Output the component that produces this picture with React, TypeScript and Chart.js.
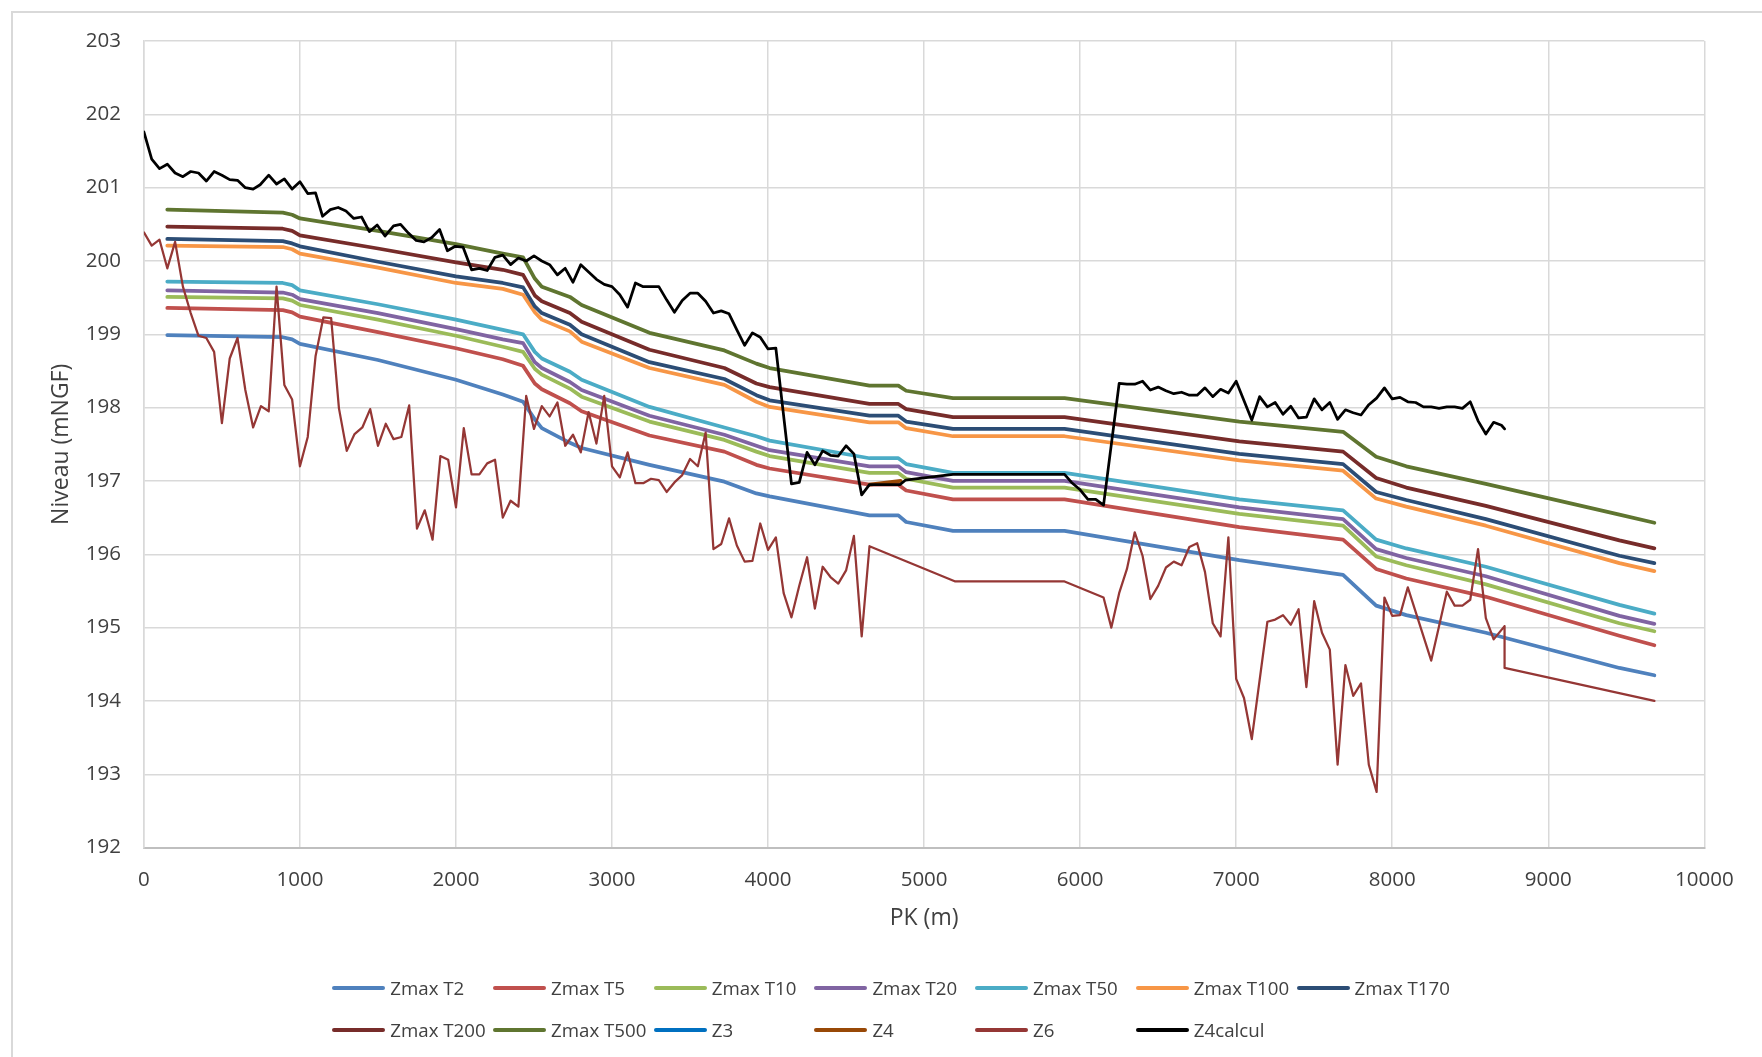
import React, { useEffect, useRef } from "react";
import { Chart, registerables } from "chart.js";

Chart.register(...registerables);

// ---------------- DATA ----------------
// PK (m) of the Zmax profiles
const PK_ZMAX = [150, 890, 950, 1000, 1500, 2000, 2300, 2430, 2505, 2550, 2730, 2805, 3240, 3720, 3925, 4010, 4650, 4835, 4885, 5185, 5900, 7020, 7685, 7897, 8090, 8600, 9456, 9680];

const ZMAX_T2 = [198.99, 198.96, 198.93, 198.87, 198.65, 198.38, 198.18, 198.08, 197.84, 197.72, 197.52, 197.45, 197.22, 196.99, 196.83, 196.79, 196.53, 196.53, 196.44, 196.32, 196.32, 195.92, 195.72, 195.30, 195.17, 194.93, 194.45, 194.35];
const ZMAX_T5 = [199.36, 199.33, 199.30, 199.24, 199.03, 198.81, 198.66, 198.57, 198.33, 198.25, 198.06, 197.95, 197.62, 197.40, 197.22, 197.17, 196.95, 196.95, 196.87, 196.75, 196.75, 196.37, 196.20, 195.80, 195.67, 195.42, 194.89, 194.76];
const ZMAX_T10 = [199.51, 199.49, 199.46, 199.40, 199.20, 198.98, 198.83, 198.76, 198.53, 198.45, 198.26, 198.15, 197.81, 197.56, 197.40, 197.34, 197.11, 197.11, 197.03, 196.91, 196.91, 196.55, 196.39, 195.97, 195.85, 195.59, 195.06, 194.95];
const ZMAX_T20 = [199.60, 199.57, 199.54, 199.48, 199.29, 199.07, 198.93, 198.88, 198.62, 198.54, 198.35, 198.24, 197.89, 197.63, 197.48, 197.42, 197.20, 197.20, 197.12, 197.00, 197.00, 196.64, 196.48, 196.07, 195.95, 195.70, 195.16, 195.05];
const ZMAX_T50 = [199.72, 199.70, 199.67, 199.60, 199.41, 199.20, 199.06, 199.00, 198.76, 198.67, 198.49, 198.38, 198.01, 197.73, 197.61, 197.55, 197.31, 197.31, 197.23, 197.11, 197.11, 196.75, 196.60, 196.20, 196.08, 195.83, 195.31, 195.19];
const ZMAX_T100 = [200.21, 200.19, 200.16, 200.10, 199.91, 199.70, 199.62, 199.54, 199.30, 199.20, 199.04, 198.90, 198.54, 198.31, 198.08, 198.01, 197.80, 197.80, 197.72, 197.61, 197.61, 197.28, 197.14, 196.76, 196.65, 196.39, 195.88, 195.77];
const ZMAX_T170 = [200.30, 200.27, 200.24, 200.20, 199.99, 199.79, 199.70, 199.64, 199.38, 199.29, 199.13, 199.00, 198.62, 198.39, 198.17, 198.10, 197.89, 197.89, 197.81, 197.71, 197.71, 197.37, 197.23, 196.85, 196.74, 196.48, 195.98, 195.88];
const ZMAX_T200 = [200.47, 200.44, 200.41, 200.35, 200.17, 199.98, 199.88, 199.81, 199.53, 199.45, 199.29, 199.17, 198.79, 198.54, 198.33, 198.28, 198.05, 198.05, 197.98, 197.87, 197.87, 197.54, 197.40, 197.04, 196.91, 196.66, 196.19, 196.08];
const ZMAX_T500 = [200.70, 200.66, 200.63, 200.58, 200.41, 200.23, 200.10, 200.05, 199.76, 199.65, 199.51, 199.40, 199.02, 198.78, 198.60, 198.54, 198.30, 198.30, 198.23, 198.13, 198.13, 197.81, 197.67, 197.33, 197.20, 196.96, 196.54, 196.43];

const PK_Z3: number[] = [];
const Z3: number[] = [];

const PK_Z4 = [4650, 4850];
const Z4 = [196.95, 197.0];

const PK_Z6 = [0, 50, 100, 150, 200, 250, 300, 350, 400, 450, 500, 550, 600, 650, 700, 750, 800, 850, 900, 950, 1000, 1050, 1100, 1150, 1200, 1250, 1300, 1350, 1400, 1450, 1500, 1550, 1600, 1650, 1700, 1750, 1800, 1850, 1900, 1950, 2000, 2050, 2100, 2150, 2200, 2250, 2300, 2350, 2400, 2450, 2500, 2550, 2600, 2650, 2700, 2750, 2800, 2850, 2900, 2950, 3000, 3050, 3100, 3150, 3200, 3250, 3300, 3350, 3400, 3450, 3500, 3550, 3600, 3650, 3700, 3750, 3800, 3850, 3900, 3950, 4000, 4050, 4100, 4150, 4200, 4250, 4300, 4350, 4400, 4450, 4500, 4550, 4600, 4650, 5200, 5900, 6150, 6200, 6250, 6300, 6350, 6400, 6450, 6500, 6550, 6600, 6650, 6700, 6750, 6800, 6850, 6900, 6950, 7000, 7050, 7100, 7200, 7250, 7300, 7350, 7400, 7450, 7500, 7550, 7600, 7650, 7700, 7750, 7800, 7850, 7900, 7950, 8000, 8050, 8100, 8250, 8300, 8350, 8400, 8450, 8500, 8550, 8600, 8650, 8720, 8720, 9680];
const Z6 = [200.39, 200.21, 200.29, 199.90, 200.26, 199.65, 199.29, 198.98, 198.95, 198.76, 197.79, 198.67, 198.95, 198.24, 197.73, 198.02, 197.95, 199.65, 198.31, 198.11, 197.20, 197.60, 198.70, 199.23, 199.22, 197.99, 197.41, 197.64, 197.73, 197.98, 197.48, 197.78, 197.57, 197.60, 198.03, 196.35, 196.60, 196.20, 197.34, 197.29, 196.64, 197.72, 197.09, 197.09, 197.24, 197.29, 196.50, 196.73, 196.65, 198.16, 197.71, 198.02, 197.88, 198.07, 197.48, 197.63, 197.39, 197.94, 197.51, 198.16, 197.20, 197.05, 197.39, 196.97, 196.97, 197.03, 197.01, 196.85, 196.98, 197.08, 197.30, 197.20, 197.66, 196.07, 196.14, 196.49, 196.12, 195.90, 195.91, 196.42, 196.06, 196.23, 195.47, 195.14, 195.57, 195.96, 195.26, 195.83, 195.69, 195.60, 195.78, 196.25, 194.88, 196.11, 195.63, 195.63, 195.41, 195.00, 195.47, 195.80, 196.30, 195.98, 195.39, 195.57, 195.82, 195.90, 195.85, 196.10, 196.15, 195.76, 195.06, 194.88, 196.23, 194.30, 194.04, 193.48, 195.08, 195.11, 195.17, 195.04, 195.25, 194.19, 195.36, 194.93, 194.70, 193.13, 194.49, 194.07, 194.24, 193.13, 192.76, 195.41, 195.16, 195.17, 195.55, 194.55, 195.02, 195.49, 195.30, 195.30, 195.38, 196.07, 195.13, 194.84, 195.02, 194.45, 194.00];

const PK_Z4CALCUL = [0, 50, 100, 150, 200, 250, 300, 350, 400, 450, 500, 550, 600, 650, 700, 745, 800, 850, 900, 950, 1000, 1050, 1100, 1145, 1195, 1245, 1295, 1345, 1395, 1445, 1495, 1545, 1600, 1645, 1695, 1745, 1795, 1845, 1895, 1945, 1995, 2045, 2100, 2150, 2200, 2250, 2300, 2350, 2400, 2450, 2500, 2550, 2600, 2650, 2700, 2750, 2800, 2850, 2900, 2950, 3000, 3050, 3100, 3150, 3200, 3250, 3300, 3350, 3400, 3450, 3500, 3550, 3600, 3650, 3700, 3750, 3800, 3850, 3900, 3950, 4000, 4050, 4150, 4200, 4250, 4300, 4350, 4400, 4450, 4500, 4550, 4600, 4650, 4845, 4880, 5185, 5900, 5945, 6000, 6050, 6100, 6150, 6250, 6300, 6350, 6400, 6450, 6500, 6550, 6600, 6650, 6700, 6750, 6800, 6850, 6900, 6950, 7000, 7100, 7150, 7200, 7250, 7300, 7350, 7400, 7450, 7500, 7550, 7600, 7650, 7700, 7750, 7800, 7850, 7900, 7950, 8000, 8050, 8100, 8150, 8200, 8250, 8300, 8350, 8400, 8450, 8500, 8550, 8600, 8650, 8700, 8720];
const Z4CALCUL = [201.76, 201.39, 201.26, 201.32, 201.20, 201.15, 201.22, 201.20, 201.09, 201.22, 201.17, 201.11, 201.10, 201.00, 200.98, 201.04, 201.17, 201.05, 201.12, 200.98, 201.08, 200.92, 200.93, 200.61, 200.70, 200.73, 200.68, 200.58, 200.60, 200.40, 200.49, 200.34, 200.48, 200.50, 200.38, 200.28, 200.26, 200.32, 200.43, 200.14, 200.20, 200.19, 199.88, 199.90, 199.87, 200.05, 200.08, 199.95, 200.04, 200.00, 200.07, 200.00, 199.95, 199.81, 199.90, 199.71, 199.95, 199.85, 199.75, 199.68, 199.65, 199.54, 199.37, 199.70, 199.65, 199.65, 199.65, 199.47, 199.30, 199.46, 199.56, 199.56, 199.45, 199.29, 199.32, 199.28, 199.06, 198.85, 199.02, 198.96, 198.80, 198.81, 196.96, 196.98, 197.39, 197.22, 197.41, 197.35, 197.34, 197.48, 197.37, 196.81, 196.95, 196.95, 197.01, 197.09, 197.09, 196.98, 196.88, 196.75, 196.75, 196.67, 198.33, 198.32, 198.32, 198.36, 198.24, 198.28, 198.23, 198.19, 198.21, 198.17, 198.17, 198.27, 198.15, 198.25, 198.20, 198.36, 197.83, 198.15, 198.01, 198.07, 197.91, 198.02, 197.86, 197.87, 198.12, 197.97, 198.07, 197.84, 197.97, 197.93, 197.90, 198.04, 198.13, 198.27, 198.12, 198.14, 198.08, 198.07, 198.01, 198.01, 197.99, 198.01, 198.01, 197.99, 198.08, 197.82, 197.64, 197.80, 197.76, 197.71];

const SERIES_NAMES = ["Zmax T2", "Zmax T5", "Zmax T10", "Zmax T20", "Zmax T50", "Zmax T100", "Zmax T170", "Zmax T200", "Zmax T500", "Z3", "Z4", "Z6", "Z4calcul"];
const X_AXIS_TITLE = "PK (m)";
const Y_AXIS_TITLE = "Niveau (mNGF)";

// ---------------- STYLE ----------------
const COLORS = ["#4F81BD", "#C0504D", "#9BBB59", "#8064A2", "#4BACC6", "#F79646", "#2C4D75", "#772C2A", "#5F7530", "#0070C0", "#984807", "#953735", "#000000"];
const WIDTHS = [3.75, 3.75, 3.75, 3.75, 3.75, 3.75, 3.75, 3.75, 3.75, 3.75, 3.75, 2.25, 2.75];

const W = 1762;
const H = 1057;
const PLOT_LEFT = 143.9;
const PLOT_RIGHT = 1704.3;
const PLOT_TOP = 41;
const PLOT_BOTTOM = 847.6;
const FONT = "'Open Sans', 'DejaVu Sans', sans-serif";
const TEXT = "#404040";

export default function App() {
  const ref = useRef<HTMLCanvasElement | null>(null);

  useEffect(() => {
    const canvas = ref.current;
    if (!canvas) return;
    const xs = [PK_ZMAX, PK_ZMAX, PK_ZMAX, PK_ZMAX, PK_ZMAX, PK_ZMAX, PK_ZMAX, PK_ZMAX, PK_ZMAX, PK_Z3, PK_Z4, PK_Z6, PK_Z4CALCUL];
    const ys = [ZMAX_T2, ZMAX_T5, ZMAX_T10, ZMAX_T20, ZMAX_T50, ZMAX_T100, ZMAX_T170, ZMAX_T200, ZMAX_T500, Z3, Z4, Z6, Z4CALCUL];
    const n = SERIES_NAMES.length;
    const datasets = SERIES_NAMES.map((name, i) => ({
      label: name,
      data: xs[i].map((x, j) => ({ x, y: ys[i][j] })),
      borderColor: COLORS[i],
      backgroundColor: COLORS[i],
      borderWidth: WIDTHS[i],
      pointRadius: 0,
      pointHoverRadius: 0,
      fill: false,
      tension: 0,
      order: n - i,
      borderJoinStyle: "round" as const,
      borderCapStyle: "round" as const,
    }));

    const chart = new Chart(canvas, {
      type: "line",
      data: { datasets },
      options: {
        responsive: false,
        animation: false,
        devicePixelRatio: 1,
        layout: { padding: { left: 0, top: PLOT_TOP, right: W - PLOT_RIGHT, bottom: 0 } },
        plugins: { legend: { display: false }, tooltip: { enabled: false }, title: { display: false } },
        scales: {
          x: {
            type: "linear",
            min: 0,
            max: 10000,
            afterFit: (s: any) => { s.height = H - PLOT_BOTTOM; },
            ticks: {
              stepSize: 1000,
              autoSkip: false,
              maxRotation: 0,
              padding: 20,
              color: TEXT,
              font: { family: FONT, size: 20.5 },
              callback: (v: any) => String(v),
            },
            grid: { color: "#d9d9d9", lineWidth: 1.5, drawTicks: false },
            border: { color: "#bfbfbf", width: 2 },
            title: {
              display: true,
              text: X_AXIS_TITLE,
              color: TEXT,
              font: { family: FONT, size: 23 },
              padding: { top: 0, bottom: 125 },
            },
          },
          y: {
            type: "linear",
            min: 192,
            max: 203,
            afterFit: (s: any) => { s.width = PLOT_LEFT; },
            ticks: {
              stepSize: 1,
              padding: 23,
              color: TEXT,
              font: { family: FONT, size: 20.5 },
              callback: (v: any) => String(v),
            },
            grid: { color: "#d9d9d9", lineWidth: 1.5, drawTicks: false },
            border: { color: "#d9d9d9", width: 1.5 },
            title: {
              display: true,
              text: Y_AXIS_TITLE,
              color: TEXT,
              font: { family: FONT, size: 23 },
              padding: { top: 48, bottom: 0 },
            },
          },
        },
      },
    });
    return () => chart.destroy();
  }, []);

  const legendCol0 = 332.3;
  const legendColW = 160.7;
  const legendRows = [987.7, 1030];
  const perRow = 7;

  return (
    <div style={{ position: "absolute", left: 0, top: 0, width: W, height: H, overflow: "hidden", background: "#ffffff" }}>
      <canvas ref={ref} width={W} height={H} style={{ position: "absolute", left: 0, top: 0, width: W, height: H }} />
      <div style={{ position: "absolute", left: 10.5, top: 11, width: W + 100, height: H + 100, border: "2px solid #d9d9d9", boxSizing: "border-box", pointerEvents: "none" }} />
      {SERIES_NAMES.map((name, i) => {
        const row = Math.floor(i / perRow);
        const col = i % perRow;
        const left = legendCol0 + col * legendColW;
        const cy = legendRows[row];
        return (
          <div key={name} style={{ position: "absolute", left, top: cy - 14, height: 28, display: "flex", alignItems: "center", whiteSpace: "nowrap" }}>
            <div style={{ width: 53, height: 4, borderRadius: 2, background: COLORS[i] }} />
            <span style={{ marginLeft: 5, fontFamily: FONT, fontSize: 18.7, color: TEXT, lineHeight: "28px" }}>{name}</span>
          </div>
        );
      })}
    </div>
  );
}
